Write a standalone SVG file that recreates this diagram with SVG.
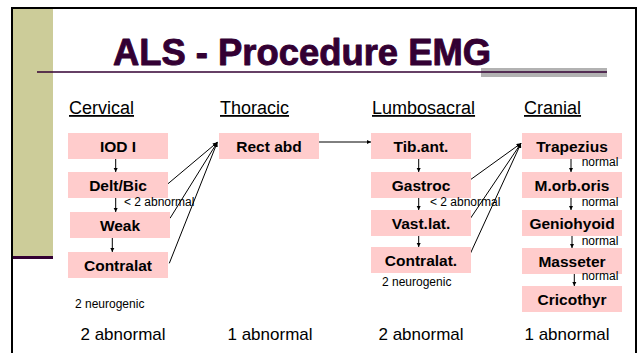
<svg xmlns="http://www.w3.org/2000/svg" width="638" height="353" viewBox="0 0 638 353">
<style>
text{font-family:"Liberation Sans",Arial,sans-serif;fill:#000}
.box{fill:#FFCCCC}
.bt{font-size:15.5px;font-weight:bold;text-anchor:middle}
.hd{font-size:18px;text-decoration:underline}
.sm{font-size:12px}
.res{font-size:17px;text-anchor:middle}
.ln{stroke:#000;stroke-width:1;fill:none;marker-end:url(#ah)}
</style>
<defs>
<marker id="ah" viewBox="0 0 8 8" refX="8" refY="4" markerWidth="4.5" markerHeight="4.5" orient="auto" markerUnits="userSpaceOnUse"><path d="M0,0 L8,4 L0,8 z" fill="#000"/></marker>
</defs>
<rect width="638" height="353" fill="#fff"/>
<g id="frame">
<rect x="13" y="9" width="40" height="247" fill="#CCCC99"/>
<rect x="13" y="256" width="40" height="3" fill="#330033"/>
<line x1="12" y1="8" x2="12" y2="353" stroke="#000" stroke-width="2"/>
<line x1="11" y1="8" x2="637" y2="8" stroke="#000" stroke-width="2"/>
<line x1="636" y1="8" x2="636" y2="353" stroke="#000" stroke-width="2"/>
<rect x="481" y="68" width="126" height="9" fill="#B2B2B2"/>
<line x1="37" y1="72" x2="607" y2="72" stroke="#330033" stroke-width="1.5"/>
<text x="113" y="65" font-size="37" font-weight="bold" style="fill:#330033;stroke:#330033;stroke-width:0.9;stroke-linejoin:round" textLength="378" lengthAdjust="spacingAndGlyphs">ALS - Procedure EMG</text>
</g>
<g id="headers">
<text class="hd" x="69" y="114">Cervical</text>
<text class="hd" x="220" y="114">Thoracic</text>
<text class="hd" x="372" y="114">Lumbosacral</text>
<text class="hd" x="524" y="114">Cranial</text>
</g>
<g id="connectors">
<line class="ln" x1="115.7" y1="159" x2="115.7" y2="172"/>
<line class="ln" x1="115.7" y1="198" x2="115.7" y2="212"/>
<line class="ln" x1="112.3" y1="238" x2="112.3" y2="252"/>
<line class="ln" x1="167.3" y1="184.3" x2="217.3" y2="142.3"/>
<line class="ln" x1="170" y1="218.3" x2="217.3" y2="142.3"/>
<line class="ln" x1="169.3" y1="263.3" x2="217.3" y2="142.3"/>
<line class="ln" x1="319" y1="142" x2="371" y2="142"/>
<line class="ln" x1="418.7" y1="159" x2="418.7" y2="172"/>
<line class="ln" x1="418.7" y1="198" x2="418.7" y2="210"/>
<line class="ln" x1="418.7" y1="236" x2="418.7" y2="247"/>
<line class="ln" x1="470" y1="180" x2="521" y2="143.3"/>
<line class="ln" x1="470" y1="219" x2="521" y2="143.3"/>
<line class="ln" x1="470" y1="254.3" x2="521" y2="143.3"/>
<line class="ln" x1="571" y1="159" x2="571" y2="172"/>
<line class="ln" x1="571" y1="198" x2="571" y2="210"/>
<line class="ln" x1="572" y1="236" x2="572" y2="248"/>
<line class="ln" x1="574.3" y1="274" x2="574.3" y2="286"/>
</g>
<g id="n-iod"><rect class="box" x="68" y="133" width="100" height="26"/><text class="bt" x="118" y="152">IOD I</text></g>
<g id="n-delt"><rect class="box" x="68" y="172" width="100" height="26"/><text class="bt" x="118" y="191">Delt/Bic</text></g>
<g id="n-weak"><rect class="box" x="70" y="212" width="100" height="26"/><text class="bt" x="120" y="231">Weak</text></g>
<g id="n-contralat-c"><rect class="box" x="68" y="252" width="100" height="26"/><text class="bt" x="118" y="271">Contralat</text></g>
<g id="n-rect"><rect class="box" x="219" y="133" width="100" height="26"/><text class="bt" x="269" y="152">Rect abd</text></g>
<g id="n-tib"><rect class="box" x="371" y="133" width="100" height="26"/><text class="bt" x="421" y="152">Tib.ant.</text></g>
<g id="n-gastroc"><rect class="box" x="371" y="172" width="100" height="26"/><text class="bt" x="421" y="191">Gastroc</text></g>
<g id="n-vast"><rect class="box" x="371" y="210" width="100" height="26"/><text class="bt" x="421" y="229">Vast.lat.</text></g>
<g id="n-contralat-l"><rect class="box" x="371" y="247" width="100" height="26"/><text class="bt" x="421" y="266">Contralat.</text></g>
<g id="n-trap"><rect class="box" x="522" y="133" width="100" height="26"/><text class="bt" x="572" y="152">Trapezius</text></g>
<g id="n-morb"><rect class="box" x="522" y="172" width="100" height="26"/><text class="bt" x="572" y="191">M.orb.oris</text></g>
<g id="n-genio"><rect class="box" x="522" y="210" width="100" height="26"/><text class="bt" x="572" y="229">Geniohyoid</text></g>
<g id="n-masseter"><rect class="box" x="522" y="248" width="100" height="26"/><text class="bt" x="572" y="267">Masseter</text></g>
<g id="n-crico"><rect class="box" x="522" y="286" width="100" height="26"/><text class="bt" x="572" y="305">Cricothyr</text></g>
<g id="labels">
<text class="sm" x="124" y="205.7">&lt; 2 abnormal</text>
<text class="sm" x="430" y="205.7">&lt; 2 abnormal</text>
<text class="sm" x="75" y="308.3">2 neurogenic</text>
<text class="sm" x="382" y="286">2 neurogenic</text>
<text class="sm" x="581.7" y="166">normal</text>
<text class="sm" x="581.7" y="206">normal</text>
<text class="sm" x="581.7" y="245">normal</text>
<text class="sm" x="581.7" y="280">normal</text>
<text class="res" x="123" y="340">2 abnormal</text>
<text class="res" x="270" y="340">1 abnormal</text>
<text class="res" x="421" y="340">2 abnormal</text>
<text class="res" x="567" y="340">1 abnormal</text>
</g>
</svg>
